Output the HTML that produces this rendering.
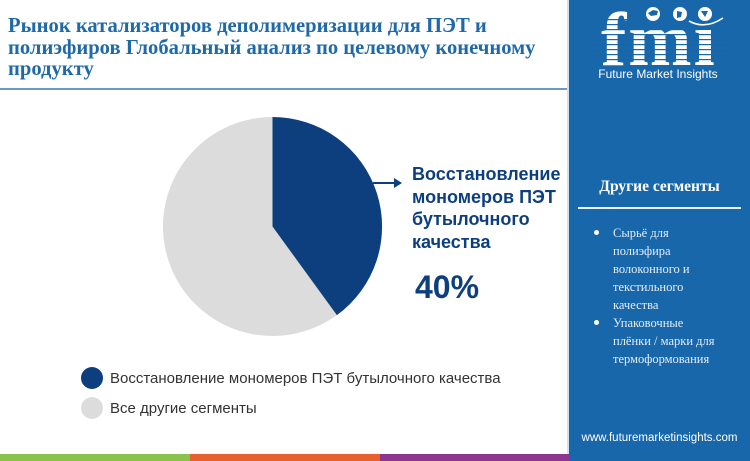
<!DOCTYPE html>
<html><head><meta charset="utf-8"><style>
html,body{margin:0;padding:0;}
body{width:750px;height:461px;position:relative;overflow:hidden;background:#fff;font-family:"Liberation Sans","Noto Sans CJK SC",sans-serif;}
.title{position:absolute;left:8px;top:16px;width:560px;font-family:"Liberation Serif","Noto Serif CJK SC",serif;font-weight:bold;font-size:20.6px;line-height:21.5px;color:#1f69a8;white-space:nowrap;}
.hr{position:absolute;left:0;top:88px;width:568px;height:2px;background:#6b98c4;}
.panel{position:absolute;left:569px;top:0;width:181px;height:461px;background:#1867aa;}
.panelline{position:absolute;left:567px;top:0;width:2px;height:461px;background:#cfe0ef;}
.seg{position:absolute;left:569px;top:178px;width:181px;text-align:center;font-family:"Liberation Serif",serif;font-weight:bold;font-size:15.5px;color:#fff;}
.segline{position:absolute;left:578px;top:207px;width:163px;height:2px;background:#e8f0f8;}
.list{position:absolute;left:613px;top:224px;width:135px;font-family:"Liberation Serif",serif;font-size:12.5px;line-height:18px;color:#e4edf7;}
.dot{position:absolute;width:5px;height:5px;border-radius:50%;background:#fff;}
.web{position:absolute;left:569px;top:432px;width:181px;text-align:center;font-size:11.5px;color:#fff;}
.lbl{position:absolute;left:412px;top:163px;font-weight:bold;font-size:18px;line-height:22.7px;color:#0d3f7f;}
.pct{position:absolute;left:415px;top:269px;font-weight:bold;font-size:32px;color:#0d3f7f;}
.leg{position:absolute;left:110px;font-size:15px;color:#333;}
.ldot{position:absolute;width:22px;height:22px;border-radius:50%;}
.bar{position:absolute;top:454px;height:7px;}
</style></head><body>
<div class="title">Рынок катализаторов деполимеризации для ПЭТ и<br>полиэфиров Глобальный анализ по целевому конечному<br>продукту</div>
<div class="hr"></div>

<svg style="position:absolute;left:0;top:0" width="568" height="461">
  <circle cx="272.5" cy="226.5" r="109.5" fill="#dcdcdc"/>
  <path d="M272.5,226.5 L272.5,117 A109.5,109.5 0 0 1 336.9,315.1 Z" fill="#0d3f7f"/>
  <line x1="373" y1="183" x2="396" y2="183" stroke="#0d3f7f" stroke-width="2"/>
  <polygon points="394,178 402,183 394,188" fill="#0d3f7f"/>
</svg>
<div class="lbl">Восстановление<br>мономеров ПЭТ<br>бутылочного<br>качества</div>
<div class="pct">40%</div>

<div class="ldot" style="left:81px;top:367px;background:#0d3f7f"></div>
<div class="leg" style="top:370px">Восстановление мономеров ПЭТ бутылочного качества</div>
<div class="ldot" style="left:81px;top:397px;background:#dcdcdc"></div>
<div class="leg" style="top:400px">Все другие сегменты</div>

<div class="panelline"></div>
<div class="panel"></div>
<svg style="position:absolute;left:569px;top:0" width="181" height="100">
  <text x="32" y="65" font-family="Liberation Serif,serif" font-weight="bold" font-size="76" fill="#fff" letter-spacing="2">fmi</text>
  <g fill="#1867aa">
    <rect x="20" y="19" width="140" height="1.2"/>
    <rect x="20" y="24" width="140" height="1.2"/>
    <rect x="20" y="29" width="140" height="1.2"/>
    <rect x="20" y="34" width="140" height="1.2"/>
    <rect x="20" y="39" width="140" height="1.2"/>
    <rect x="20" y="44" width="140" height="1.2"/>
    <rect x="20" y="49" width="140" height="1.2"/>
    <rect x="20" y="54" width="140" height="1.2"/>
    <rect x="20" y="59" width="140" height="1.2"/>
  </g>
  <rect x="120" y="2" width="40" height="26" fill="#1867aa"/>
  <circle cx="84" cy="14" r="7" fill="#fff"/>
  <circle cx="111" cy="14" r="7" fill="#fff"/>
  <circle cx="136" cy="14" r="7" fill="#fff"/>
  <path d="M79,13 l5,-3 l5,1 l-1,4 l-6,1z" fill="#1867aa"/>
  <path d="M108,11 l5,1 l-1,5 l-4,1z" fill="#1867aa"/>
  <path d="M132,11 l7,0 l-3,6z" fill="#1867aa"/>
  <path d="M120,21 q16,9 34,-3" stroke="#fff" stroke-width="1.6" fill="none"/>
  <rect x="130" y="30" width="12" height="35" fill="#fff"/>
  <g fill="#1867aa">
    <rect x="128" y="34" width="16" height="1.2"/>
    <rect x="128" y="39" width="16" height="1.2"/>
    <rect x="128" y="44" width="16" height="1.2"/>
    <rect x="128" y="49" width="16" height="1.2"/>
    <rect x="128" y="54" width="16" height="1.2"/>
    <rect x="128" y="59" width="16" height="1.2"/>
  </g>
  <text x="89" y="78" text-anchor="middle" font-family="Liberation Sans,sans-serif" font-size="12" fill="#fff">Future Market Insights</text>
</svg>

<div class="seg">Другие сегменты</div>
<div class="segline"></div>
<div class="dot" style="left:594px;top:230px"></div>
<div class="dot" style="left:594px;top:320px"></div>
<div class="list">Сырьё для<br>полиэфира<br>волоконного и<br>текстильного<br>качества<br>Упаковочные<br>плёнки / марки для<br>термоформования</div>
<div class="web">www.futuremarketinsights.com</div>

<div class="bar" style="left:0;width:190px;background:#8bc34a"></div>
<div class="bar" style="left:190px;width:190px;background:#e8612c"></div>
<div class="bar" style="left:380px;width:189px;background:#8e3590"></div>
</body></html>
